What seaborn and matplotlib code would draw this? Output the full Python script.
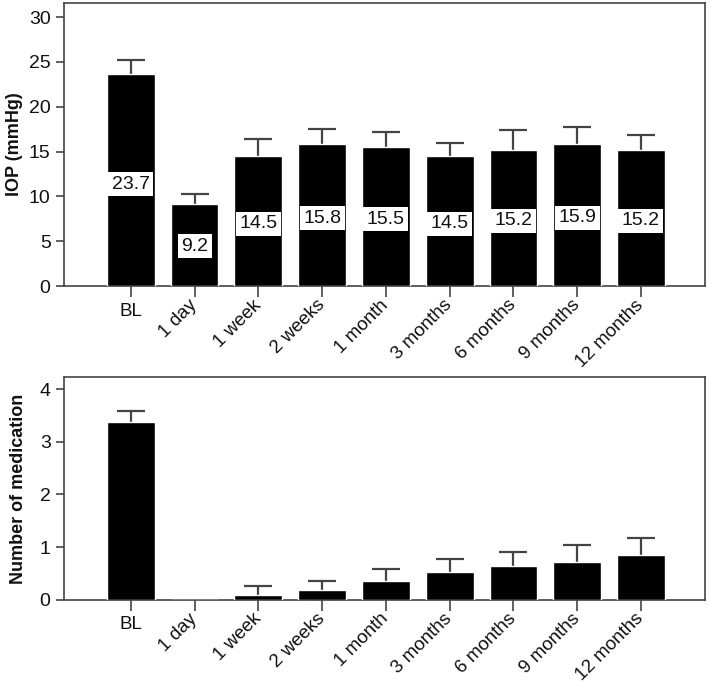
import numpy as np
import pandas as pd
import matplotlib
matplotlib.use("Agg")
import matplotlib.pyplot as plt
import seaborn as sns

timepoints = ["BL", "1 day", "1 week", "2 weeks", "1 month",
              "3 months", "6 months", "9 months", "12 months"]
iop_mean = [23.7, 9.2, 14.5, 15.8, 15.5, 14.5, 15.2, 15.9, 15.2]
iop_sd = [1.5, 1.1, 1.9, 1.7, 1.7, 1.5, 2.2, 1.8, 1.7]
med_mean = [3.37, 0.0, 0.08, 0.19, 0.35, 0.52, 0.64, 0.72, 0.85]
med_sd = [0.21, 0.0, 0.18, 0.17, 0.24, 0.25, 0.27, 0.32, 0.33]

sns.set_style("ticks")
plt.rcParams["font.family"] = ["Liberation Sans", "DejaVu Sans"]
plt.rcParams["font.size"] = 12

df = pd.DataFrame({"time": timepoints, "iop": iop_mean, "iop_sd": iop_sd,
                   "med": med_mean, "med_sd": med_sd})

fig = plt.figure(figsize=(7.09, 6.86), dpi=100)
ax1 = fig.add_axes([0.090, 0.583, 0.904, 0.413])
ax2 = fig.add_axes([0.090, 0.126, 0.904, 0.324])

edge = "#444444"


def draw(ax, col, sdcol, ylim, yticks, ylabel):
    sns.barplot(data=df, x="time", y=col, color="black", width=0.75,
                saturation=1, ax=ax, zorder=3)
    sub = df[df[sdcol] > 0]
    pos = [timepoints.index(t) for t in sub["time"]]
    # symmetric bars drawn behind the black bars, so only the upper half shows
    ax.errorbar(pos, sub[col], yerr=sub[sdcol],
                fmt="none", ecolor=edge, elinewidth=1.6, capsize=10,
                capthick=1.6, zorder=1)
    ax.set_xlim(-1.05, 9.0)
    ax.set_ylim(*ylim)
    ax.set_yticks(yticks)
    ax.set_xlabel("")
    ax.set_ylabel(ylabel, fontweight="bold", fontsize=13, color="#111111")
    for s in ax.spines.values():
        s.set_color(edge)
        s.set_linewidth(1.2)
    ax.tick_params(axis="y", length=6, width=1.2, color=edge, labelsize=14,
                   labelcolor="#111111")
    ax.tick_params(axis="x", length=8, width=1.2, color=edge, labelsize=13.5,
                   labelcolor="#111111", pad=4)
    ax.set_xticks(range(len(timepoints)))
    labels = ax.set_xticklabels(timepoints)
    for i, lab in enumerate(labels):
        if i == 0:
            lab.set_rotation(0)
            lab.set_ha("center")
        else:
            lab.set_rotation(45)
            lab.set_ha("right")
            lab.set_va("center")
            lab.set_rotation_mode("anchor")


draw(ax1, "iop", "iop_sd", (0, 31.6), range(0, 31, 5), "IOP (mmHg)")
draw(ax2, "med", "med_sd", (0, 4.23), range(0, 5), "Number of medication")

for i, v in enumerate(iop_mean):
    ax1.text(i, v * 0.48, f"{v:.1f}", ha="center", va="center", fontsize=14,
             color="#111111", zorder=5,
             bbox=dict(facecolor="white", edgecolor="none", pad=2.5))

ax1.yaxis.set_label_coords(-0.063, 0.5)
ax2.yaxis.set_label_coords(-0.058, 0.5)

fig.savefig("out.png", dpi=100)
